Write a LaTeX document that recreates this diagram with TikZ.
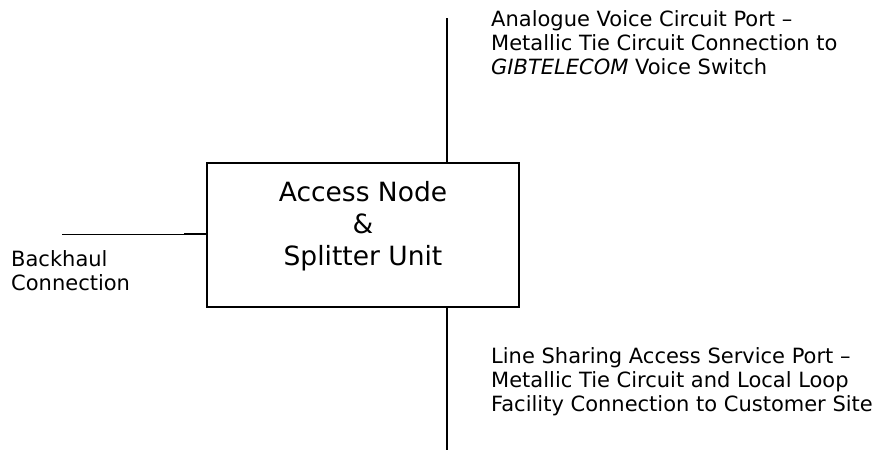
\documentclass[tikz,border=0pt]{standalone}
\usepackage{fontspec}
\setmainfont{DejaVu Sans}
\usetikzlibrary{positioning}

\begin{document}
\begin{tikzpicture}[
    x=1pt, y=-1pt,
    unitbox/.style={rectangle, draw, line width=1.3pt, minimum width=312pt, minimum height=144pt, inner sep=0pt},
    port/.style={align=left, inner sep=0pt, font=\fontsize{21}{24}\selectfont},
    wire/.style={line width=1.5pt}
]
\useasboundingbox (0,0) rectangle (884,450);

% Access node box
\node[unitbox] (unit) at (363,235) {};
\node[align=center, inner sep=0pt, font=\fontsize{26.5}{32}\selectfont, anchor=base] (unitlabel) at (363,265)
    {Access Node\\ \&\\ Splitter Unit};

% Line ends
\coordinate (voice) at (447,18);
\coordinate (customer) at (447,450);
\coordinate (backhaul) at (62,234);
\coordinate (stub) at (184,234);

\draw[wire] (voice) -- (voice |- unit.north);
\draw[wire] (customer) -- (customer |- unit.south);
\draw[line width=1pt] (backhaul) -- (backhaul -| unit.west);
\draw[wire] (stub) -- (stub -| unit.west);

% Port labels
\node[port, anchor=base west] (voicelabel) at (491,74)
    {Analogue Voice Circuit Port --\\ Metallic Tie Circuit Connection to\\ \textit{GIBTELECOM} Voice Switch};
\node[port, anchor=base west] (customerlabel) at (491,411)
    {Line Sharing Access Service Port --\\ Metallic Tie Circuit and Local Loop\\ Facility Connection to Customer Site};
\node[port, anchor=base west] (backhaullabel) at (11,290)
    {Backhaul\\ Connection};

\end{tikzpicture}
\end{document}
